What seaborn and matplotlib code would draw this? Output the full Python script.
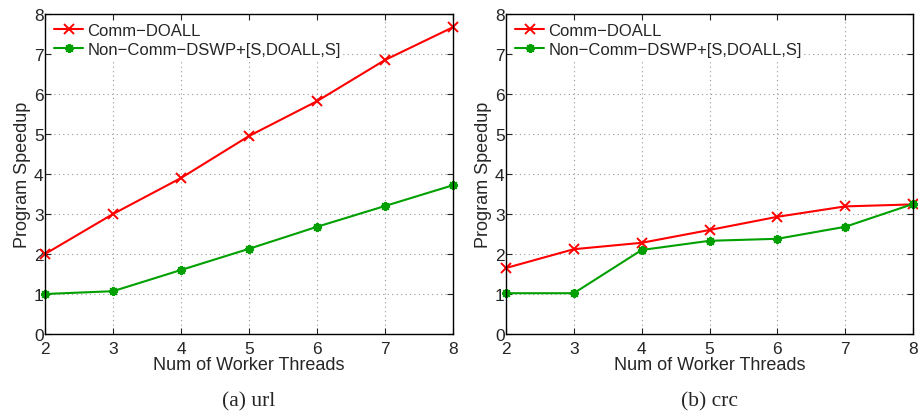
import numpy as np
import pandas as pd
import matplotlib
matplotlib.use("Agg")
import matplotlib.pyplot as plt
import seaborn as sns

threads = [2, 3, 4, 5, 6, 7, 8]
series_names = ["Comm\u2212DOALL", "Non\u2212Comm\u2212DSWP+[S,DOALL,S]"]
url_comm = [2.0, 3.0, 3.9, 4.95, 5.82, 6.85, 7.67]
url_noncomm = [1.0, 1.07, 1.6, 2.13, 2.68, 3.2, 3.72]
crc_comm = [1.65, 2.12, 2.28, 2.6, 2.93, 3.19, 3.24]
crc_noncomm = [1.02, 1.02, 2.1, 2.33, 2.38, 2.68, 3.25]
captions = ["(a) url", "(b) crc"]

sns.set_style("white")
plt.rcParams['font.family'] = ['Liberation Sans', 'DejaVu Sans']

fig = plt.figure(figsize=(9.18, 4.14), dpi=100)
ax_pos = [[45/918, 1-335/414, 408/918, 320/414],
          [506/918, 1-335/414, 407/918, 320/414]]

datasets = [(url_comm, url_noncomm), (crc_comm, crc_noncomm)]
palette = {series_names[0]: "#ff0000", series_names[1]: "#00a000"}
markers = {series_names[0]: "x", series_names[1]: (8, 2, 0)}

for i, (c, n) in enumerate(datasets):
    ax = fig.add_axes(ax_pos[i])
    df = pd.DataFrame({
        "threads": threads * 2,
        "speedup": c + n,
        "series": [series_names[0]] * len(threads) + [series_names[1]] * len(threads),
    })
    sns.lineplot(data=df, x="threads", y="speedup", hue="series", style="series",
                 palette=palette, markers=markers, dashes=False, ax=ax,
                 linewidth=1.5, markersize=6.5, markeredgewidth=1.4, clip_on=False)
    for ln in ax.lines:
        ln.set_markeredgecolor(ln.get_color())
        ln.set_markerfacecolor(ln.get_color())
    ax.set_xlim(2, 8)
    ax.set_ylim(0, 8)
    ax.set_xticks(threads)
    ax.set_yticks(range(0, 9))
    ax.tick_params(axis='both', labelsize=12.5, direction='in', length=4, pad=1,
                   top=True, right=True, bottom=True, left=True)
    ax.tick_params(axis='x', pad=5)
    ax.grid(True, linestyle=(0, (1, 3)), color="#999999", linewidth=0.8)
    for s in ax.spines.values():
        s.set_color("black")
        s.set_linewidth(1.0)
    ax.set_xlabel("Num of Worker Threads", fontsize=13, labelpad=0)
    ax.set_ylabel("Program Speedup", fontsize=13, labelpad=2)
    leg = ax.legend(loc="upper left", fontsize=12, frameon=True, fancybox=False,
                    borderpad=0.15, handlelength=1.75, handletextpad=0.25,
                    labelspacing=0.2, borderaxespad=0.4, title=None)
    for h in leg.legend_handles:
        h.set_markeredgecolor(h.get_color())
        h.set_markerfacecolor(h.get_color())
    leg.get_frame().set_edgecolor("none")
    leg.get_frame().set_facecolor("white")
    leg.get_frame().set_alpha(1.0)
    fig.text(ax_pos[i][0] + ax_pos[i][2] / 2, 1 - 402/414, captions[i],
             ha="center", va="center", fontsize=15.5, family=["Liberation Serif", "DejaVu Serif"])

fig.savefig("out.png", dpi=100)
